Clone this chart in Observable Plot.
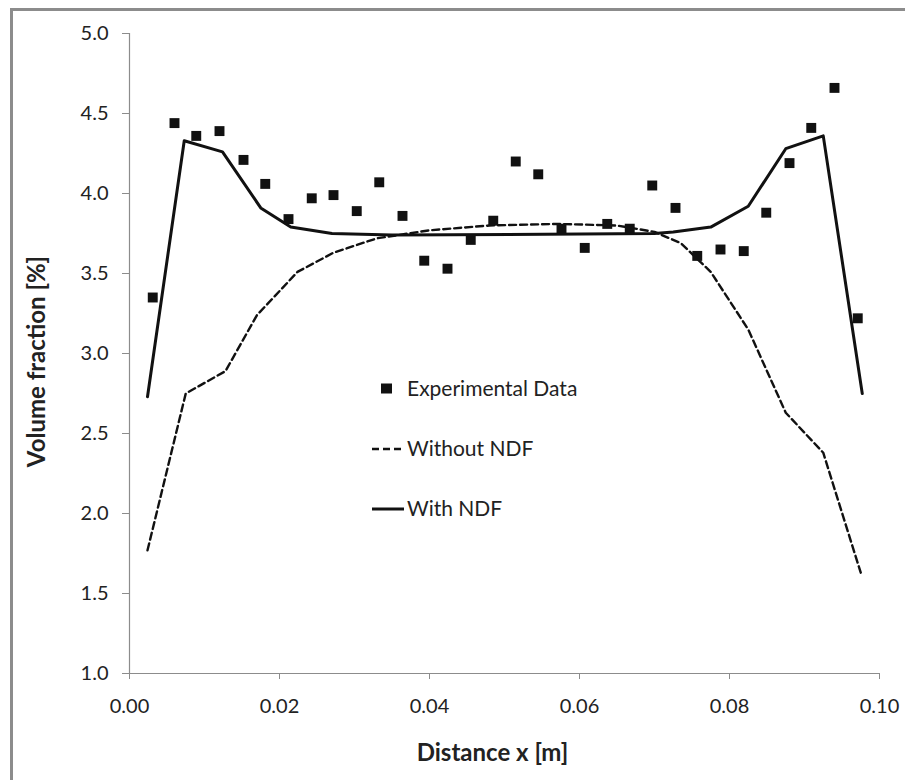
<!DOCTYPE html>
<html>
<head>
<meta charset="utf-8">
<script src="https://cdn.jsdelivr.net/npm/d3@7"></script>
<script src="https://cdn.jsdelivr.net/npm/@observablehq/plot@0.6"></script>
<style>
  html, body { margin: 0; padding: 0; background: #fff; }
  #wrap { position: relative; width: 905px; height: 780px; overflow: hidden; }
  #frame { position: absolute; left: 10px; top: 8px; width: 1000px; height: 1000px;
           border: 3px solid #8c8c8c; box-sizing: border-box; }
  #chart { position: absolute; left: 0; top: 0; }
  #chart svg { background: transparent; }
  #legend { position: absolute; left: 0; top: 0; font-family: Lato, sans-serif; font-size: 21px; color: #222; }
  g[aria-label="y-axis label"] text, g[aria-label="x-axis label"] text { font-weight: bold; font-size: 24px; }
</style>
</head>
<body>
<div id="wrap">
  <div id="frame"></div>
  <div id="chart"></div>
  <svg id="legend" width="905" height="780"></svg>
</div>
<script>
// Experimental data (x in m, volume fraction in %)
const expX = [0.0031, 0.0060, 0.0089, 0.0120, 0.0152, 0.0181, 0.0212, 0.0243, 0.0272, 0.0303, 0.0333,
              0.0364, 0.0393, 0.0424, 0.0455, 0.0485, 0.0515, 0.0545, 0.0576, 0.0607, 0.0637, 0.0667,
              0.0697, 0.0728, 0.0757, 0.0788, 0.0819, 0.0849, 0.0880, 0.0909, 0.0940, 0.0971];
const expY = [3.35, 4.44, 4.36, 4.39, 4.21, 4.06, 3.84, 3.97, 3.99, 3.89, 4.07,
              3.86, 3.58, 3.53, 3.71, 3.83, 4.20, 4.12, 3.78, 3.66, 3.81, 3.78,
              4.05, 3.91, 3.61, 3.65, 3.64, 3.88, 4.19, 4.41, 4.66, 3.22];

// Simulation without NDF (dashed)
const noNdfX = [0.0024, 0.0075, 0.0128, 0.0170, 0.0200, 0.0224, 0.0272, 0.0330, 0.0400, 0.0480,
                0.0570, 0.0650, 0.0700, 0.0735, 0.0775, 0.0825, 0.0875, 0.0925, 0.0975];
const noNdfY = [1.77, 2.75, 2.89, 3.24, 3.39, 3.51, 3.63, 3.72, 3.77, 3.80,
                3.81, 3.80, 3.76, 3.69, 3.51, 3.15, 2.63, 2.38, 1.63];

// Simulation with NDF (solid)
const ndfX = [0.0024, 0.0073, 0.0124, 0.0175, 0.0215, 0.0270, 0.0350, 0.0700, 0.0725, 0.0775,
              0.0825, 0.0875, 0.0925, 0.0977];
const ndfY = [2.73, 4.33, 4.26, 3.91, 3.79, 3.75, 3.74, 3.75, 3.76, 3.79,
              3.92, 4.28, 4.36, 2.75];

const xTicks = [0, 0.02, 0.04, 0.06, 0.08, 0.10];
const yTicks = [1.0, 1.5, 2.0, 2.5, 3.0, 3.5, 4.0, 4.5, 5.0];
const xTitle = "Distance x [m]";
const yTitle = "Volume fraction [%]";
const legendLabels = ["Experimental Data", "Without NDF", "With NDF"];

const exp = expX.map((x, i) => ({x, y: expY[i]}));
const noNdf = noNdfX.map((x, i) => ({x, y: noNdfY[i]}));
const ndf = ndfX.map((x, i) => ({x, y: ndfY[i]}));

const axisColor = "#8c8c8c";

const plot = Plot.plot({
  width: 905,
  height: 780,
  marginLeft: 129,
  marginRight: 26,
  marginTop: 33,
  marginBottom: 107,
  style: {fontFamily: "Lato, sans-serif", fontSize: "20px", color: "#222", background: "transparent"},
  x: {domain: [0, 0.1]},
  y: {domain: [1, 5]},
  marks: [
    Plot.ruleX([0], {stroke: axisColor, strokeWidth: 1.2}),
    Plot.ruleY([1], {stroke: axisColor, strokeWidth: 1.2}),
    Plot.axisX({ticks: xTicks, tickFormat: d3.format(".2f"), tickSize: 6, tickPadding: 19,
                stroke: axisColor, fill: "#222",
                label: xTitle, labelAnchor: "center", labelOffset: 87, labelArrow: "none"}),
    Plot.axisY({ticks: yTicks, tickFormat: d3.format(".1f"), tickSize: 7, tickPadding: 14,
                stroke: axisColor, fill: "#222",
                label: yTitle, labelAnchor: "center", labelOffset: 102, labelArrow: "none"}),
    Plot.line(noNdf, {x: "x", y: "y", stroke: "#111", strokeWidth: 2.4, strokeDasharray: "7,4"}),
    Plot.line(ndf, {x: "x", y: "y", stroke: "#111", strokeWidth: 3}),
    Plot.dot(exp, {x: "x", y: "y", symbol: "square", r: 5.6, fill: "#111", stroke: "none"})
  ]
});
document.getElementById("chart").appendChild(plot);

// Nudge axis titles to where the reference places them
d3.select(plot).selectAll('g[aria-label="x-axis label"] text').attr("dx", -12);
d3.select(plot).selectAll('g[aria-label="y-axis label"] text').attr("dx", -8);

// Legend inside the plot area (as in the reference)
const lg = d3.select("#legend");
const items = [
  {label: legendLabels[0], kind: "square", cy: 389},
  {label: legendLabels[1], kind: "dash", cy: 449},
  {label: legendLabels[2], kind: "solid", cy: 509}
];
items.forEach(it => {
  if (it.kind === "square") {
    lg.append("rect").attr("x", 381).attr("y", it.cy - 5.5).attr("width", 11).attr("height", 10).attr("fill", "#111");
  } else {
    lg.append("line").attr("x1", 372).attr("x2", 404).attr("y1", it.cy).attr("y2", it.cy)
      .attr("stroke", "#111").attr("stroke-width", it.kind === "dash" ? 2.4 : 3)
      .attr("stroke-dasharray", it.kind === "dash" ? "7,4" : null);
  }
  lg.append("text").attr("x", 407).attr("y", it.cy).attr("dy", "0.35em").attr("fill", "#222").text(it.label);
});
</script>
</body>
</html>
